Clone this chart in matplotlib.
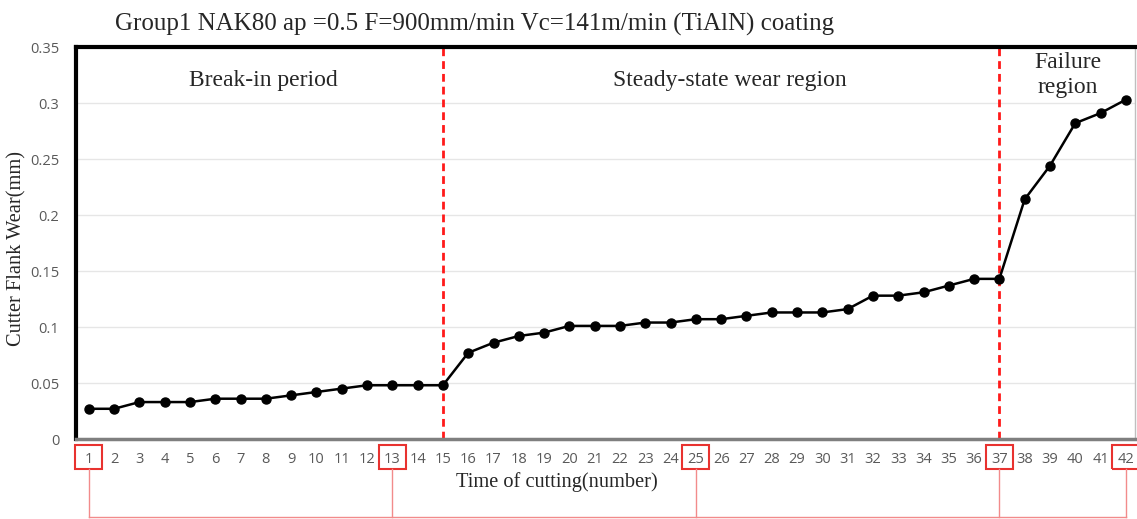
import numpy as np
import matplotlib.pyplot as plt
from matplotlib.patches import Rectangle
from matplotlib.transforms import blended_transform_factory

# data
cuts = list(range(1, 43))
wear = [0.027, 0.027, 0.033, 0.033, 0.033, 0.036, 0.036, 0.036, 0.039, 0.042,
        0.045, 0.048, 0.048, 0.048, 0.048, 0.077, 0.086, 0.092, 0.095, 0.101,
        0.101, 0.101, 0.104, 0.104, 0.107, 0.107, 0.110, 0.113, 0.113, 0.113,
        0.116, 0.128, 0.128, 0.131, 0.137, 0.143, 0.143, 0.214, 0.244, 0.282,
        0.291, 0.303]
boundaries = [15, 37]
boxed = [1, 13, 25, 37, 42]
yticks = [0, 0.05, 0.1, 0.15, 0.2, 0.25, 0.3, 0.35]
ytick_labels = ['0', '0.05', '0.1', '0.15', '0.2', '0.25', '0.3', '0.35']
regions = [('Break-in period', 7.9, 0.320),
           ('Steady-state wear region', 26.35, 0.320),
           ('Failure\nregion', 39.7, 0.325)]

serif = 'Liberation Serif'
sans = 'Open Sans'

fig = plt.figure(figsize=(11.37, 5.19), dpi=100)
ax = fig.add_axes([0.0668, 0.1541, 0.9314, 0.7553])

ax.plot(cuts, wear, color='black', lw=1.8, marker='o', ms=6.5, zorder=3)

for b in boundaries:
    ax.axvline(b, color='#ff1a1a', lw=2, ls=(0, (2.8, 1.8)), zorder=2)

ax.set_xlim(0.49, 42.36)
ax.set_ylim(0, 0.35)
ax.set_yticks(yticks)
ax.set_yticklabels(ytick_labels, fontfamily=sans, fontsize=10.5, color='#595959')
ax.set_xticks(cuts)
ax.set_xticklabels([str(c) for c in cuts], fontfamily=sans, fontsize=10.5, color='#595959')
ax.tick_params(length=0, pad=9)
ax.tick_params(axis='y', pad=12)

ax.grid(axis='y', color='#e6e6e6', lw=1)
ax.set_axisbelow(True)

ax.spines['left'].set_linewidth(3)
ax.spines['left'].set_color('black')
ax.spines['top'].set_linewidth(3)
ax.spines['top'].set_color('black')
ax.spines['bottom'].set_linewidth(2.5)
ax.spines['bottom'].set_color('#7f7f7f')
ax.spines['right'].set_linewidth(1)
ax.spines['right'].set_color('#bfbfbf')

# red boxes round some tick labels and the connector lines below them
tr = blended_transform_factory(ax.transData, ax.transAxes)
for c in boxed:
    ax.add_patch(Rectangle((c - 0.53, -0.0765), 1.06, 0.061, transform=tr,
                           fill=False, edgecolor='#e8322f', lw=1.5, clip_on=False))
    ax.plot([c, c], [-0.0765, -0.198], color='#f28b8b', lw=1, transform=tr, clip_on=False)
ax.plot([boxed[0], boxed[-1]], [-0.198, -0.198], color='#f28b8b', lw=1,
        transform=tr, clip_on=False)

for txt, x, y in regions:
    ax.text(x, y, txt, ha='center', va='center', fontfamily=serif, fontsize=17,
            color='#262626', linespacing=1.3)

ax.text(19.5, -0.11, 'Time of cutting(number)', transform=tr, ha='center', va='center',
        fontfamily=serif, fontsize=14.7, color='#262626')
ax.text(-0.056, 0.486, 'Cutter Flank Wear(mm)', transform=ax.transAxes, rotation=90,
        ha='center', va='center', fontfamily=serif, fontsize=14.7, color='#262626')
fig.text(0.101, 0.953, 'Group1 NAK80 ap =0.5 F=900mm/min Vc=141m/min (TiAlN) coating',
         ha='left', va='center', fontfamily=serif, fontsize=18, color='#262626')

fig.savefig('out.png', dpi=100)
